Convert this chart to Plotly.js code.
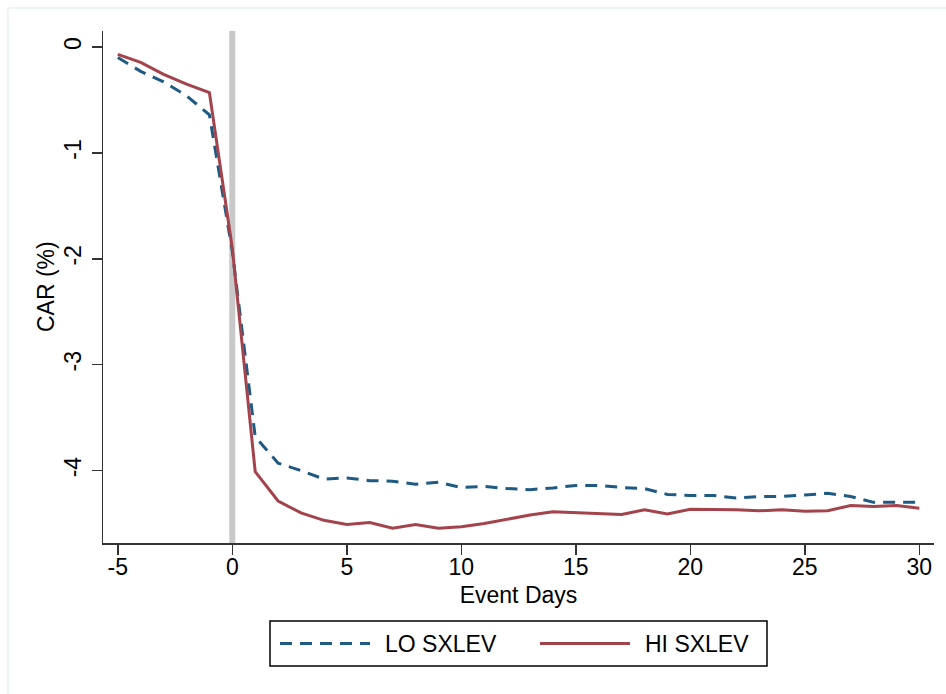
<!DOCTYPE html>
<html>
<head>
<meta charset="utf-8">
<script src="https://cdn.plot.ly/plotly-3.0.1.min.js"></script>
<style>html,body{margin:0;padding:0;background:#fff;}#chart{width:946px;height:694px;}</style>
</head>
<body>
<div id="chart"></div>
<script>
const eventDays = [-5,-4,-3,-2,-1,0,1,2,3,4,5,6,7,8,9,10,11,12,13,14,15,16,17,18,19,20,21,22,23,24,25,26,27,28,29,30];
const loSxlev = [-0.10,-0.23,-0.33,-0.46,-0.64,-1.93,-3.68,-3.93,-4.00,-4.08,-4.07,-4.095,-4.10,-4.13,-4.11,-4.16,-4.15,-4.17,-4.18,-4.165,-4.14,-4.14,-4.16,-4.17,-4.225,-4.235,-4.235,-4.26,-4.245,-4.245,-4.23,-4.215,-4.245,-4.30,-4.30,-4.30];
const hiSxlev = [-0.07,-0.145,-0.258,-0.35,-0.43,-1.90,-4.01,-4.287,-4.40,-4.47,-4.51,-4.49,-4.545,-4.51,-4.545,-4.53,-4.50,-4.46,-4.42,-4.39,-4.40,-4.41,-4.415,-4.37,-4.41,-4.365,-4.365,-4.37,-4.38,-4.37,-4.385,-4.38,-4.33,-4.34,-4.33,-4.355];
const xTicks = [-5,0,5,10,15,20,25,30];
const yTicks = [0,-1,-2,-3,-4];
const seriesNames = ["LO SXLEV","HI SXLEV"];
const yTitle = "CAR (%)";
const eventDay = 0;

const blue = "#1f5a82";
const red = "#a3434b";
const font = "Liberation Sans, Arial, Helvetica, sans-serif";
const fs = 23;

const traces = [
  {x: eventDays, y: loSxlev, name: seriesNames[0], mode: "lines", line: {color: blue, width: 3, dash: "12px,8px"}},
  {x: eventDays, y: hiSxlev, name: seriesNames[1], mode: "lines", line: {color: red, width: 3}}
];

const L = 103, R = 934, T = 31, B = 543;
const W = R - L, H = B - T;
const px = v => (v - L) / W;
const py = v => (B - v) / H;

const layout = {
  width: 946, height: 694,
  margin: {l: L, r: 946 - R, t: T, b: 694 - B},
  paper_bgcolor: "#fff", plot_bgcolor: "#fff",
  showlegend: false,
  font: {family: font, color: "#000", size: fs},
  xaxis: {
    range: [-5.646, 30.64], tickvals: xTicks, ticktext: xTicks.map(String),
    showgrid: false, zeroline: false, showline: true, linecolor: "#333", linewidth: 1.5,
    ticks: "outside", ticklen: 10, tickcolor: "#333", tickwidth: 1.5,
    tickfont: {size: fs, family: font, color: "#000"}, ticklabelstandoff: -7,
    title: {text: "Event Days", font: {size: fs, family: font, color: "#000"}, standoff: 8}
  },
  yaxis: {
    range: [-4.684, 0.151], tickvals: yTicks, ticktext: yTicks.map(String),
    showgrid: false, zeroline: false, showline: true, linecolor: "#333", linewidth: 1.5,
    ticks: "outside", ticklen: 10, tickcolor: "#333", tickwidth: 1.5, tickangle: -90,
    tickfont: {size: fs, family: font, color: "#000"}, ticklabelstandoff: 1
  },
  shapes: [
    {type: "line", xref: "x", yref: "paper", x0: eventDay, x1: eventDay, y0: 0, y1: 1, line: {color: "#c8c8c8", width: 6}, layer: "below"},
    {type: "line", xref: "paper", yref: "paper", x0: px(8), x1: px(946), y0: py(8), y1: py(8), line: {color: "#eef3f3", width: 2}},
    {type: "line", xref: "paper", yref: "paper", x0: px(8), x1: px(8), y0: py(8), y1: py(694), line: {color: "#eef3f3", width: 2}},
    {type: "rect", xref: "paper", yref: "paper", x0: px(270), x1: px(767), y0: py(621), y1: py(666), line: {color: "#000", width: 1.5}, fillcolor: "rgba(0,0,0,0)"},
    {type: "line", xref: "paper", yref: "paper", x0: px(280), x1: px(370), y0: py(643.5), y1: py(643.5), line: {color: blue, width: 3, dash: "12px,8px"}},
    {type: "line", xref: "paper", yref: "paper", x0: px(540), x1: px(630), y0: py(643.5), y1: py(643.5), line: {color: red, width: 3}}
  ],
  annotations: [
    {xref: "paper", yref: "paper", x: px(46), y: py(287), xanchor: "center", yanchor: "middle", textangle: -90, text: yTitle, showarrow: false, font: {size: fs, family: font, color: "#000"}},
    {xref: "paper", yref: "paper", x: px(383), y: py(643.5), xanchor: "left", yanchor: "middle", text: seriesNames[0], showarrow: false, font: {size: fs, family: font, color: "#000"}},
    {xref: "paper", yref: "paper", x: px(643), y: py(643.5), xanchor: "left", yanchor: "middle", text: seriesNames[1], showarrow: false, font: {size: fs, family: font, color: "#000"}}
  ]
};

Plotly.newPlot("chart", traces, layout, {displayModeBar: false, staticPlot: true});
</script>
</body>
</html>
